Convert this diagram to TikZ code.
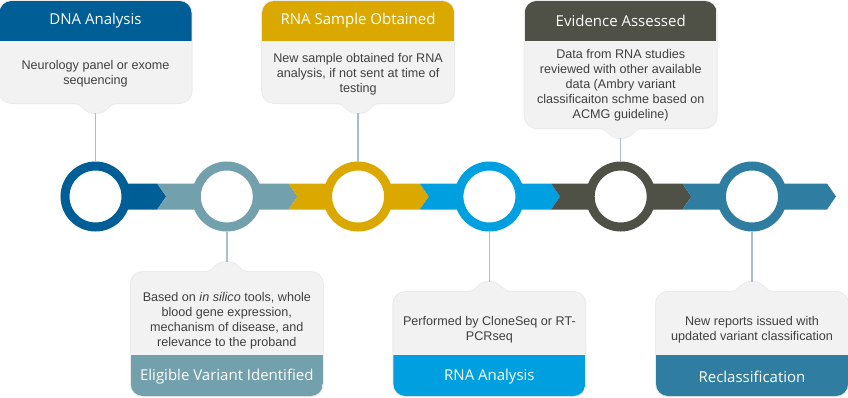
\documentclass[tikz,border=0pt]{standalone}
\usepackage{fontspec}
\setmainfont{Liberation Sans}
\newfontfamily\headfamily{Open Sans}
\definecolor{dnablue}{HTML}{005E97}
\definecolor{varteal}{HTML}{72A0AC}
\definecolor{rnagold}{HTML}{DBA800}
\definecolor{rnablue}{HTML}{00A0E0}
\definecolor{evgrey}{HTML}{4F5046}
\definecolor{reclblue}{HTML}{2F7EA1}
\definecolor{cardbg}{HTML}{F2F2F2}
\definecolor{bodytext}{HTML}{404040}
\definecolor{linkcol}{HTML}{A9BFCE}

% card pieces: centre x, edge y (the tab points at the band)
\newcommand{\topbox}[2]{({#1-96},1) rectangle ({#1+96},#2)}
\newcommand{\toptab}[2]{({#1-22},{#2-4}) -- ({#1-22},#2) .. controls ({#1-11},#2) and ({#1-13},{#2+10}) .. (#1,{#2+10}) .. controls ({#1+13},{#2+10}) and ({#1+11},#2) .. ({#1+22},#2) -- ({#1+22},{#2-4}) -- cycle}
\newcommand{\botbox}[2]{({#1-96},#2) rectangle ({#1+96},396)}
\newcommand{\bottab}[2]{({#1-22},{#2+4}) -- ({#1-22},#2) .. controls ({#1-11},#2) and ({#1-13},{#2-10}) .. (#1,{#2-10}) .. controls ({#1+13},{#2-10}) and ({#1+11},#2) .. ({#1+22},#2) -- ({#1+22},{#2+4}) -- cycle}

\begin{document}
\begin{tikzpicture}[x=1pt, y=-1pt,
    ring/.style={circle, draw=#1, line width=9pt, fill=white, minimum size=61pt, inner sep=0pt},
    cardshade/.style={draw=black!8, line width=2pt},
    cardfill/.style={fill=cardbg},
    round/.style={rounded corners=12pt},
    title/.style={font=\headfamily\fontsize{15}{18}\selectfont, text=white},
    note/.style={font=\fontsize{12.6}{15}\selectfont, text=bodytext, align=center},
    link/.style={draw=linkcol, line width=1.5pt}
]
\useasboundingbox (0,0) rectangle (848,397);

% cards above the band
\foreach \cx/\cy/\col in {95.5/103/dnablue, 358.1/103/rnagold, 620.7/128/evgrey}{
  \draw[cardshade, round] \topbox{\cx}{\cy};
  \draw[cardshade] \toptab{\cx}{\cy};
  \fill[cardfill, round] \topbox{\cx}{\cy};
  \fill[cardfill] \toptab{\cx}{\cy};
  \begin{scope}
    \clip[round] \topbox{\cx}{\cy};
    \fill[\col] ({\cx-96},0) rectangle ({\cx+96},41);
  \end{scope}
}

% cards below the band
\foreach \cx/\cy/\col in {226.8/272/varteal, 489.4/292/rnablue, 752/292/reclblue}{
  \draw[cardshade, round] \botbox{\cx}{\cy};
  \draw[cardshade] \bottab{\cx}{\cy};
  \fill[cardfill, round] \botbox{\cx}{\cy};
  \fill[cardfill] \bottab{\cx}{\cy};
  \begin{scope}
    \clip[round] \botbox{\cx}{\cy};
    \fill[\col] ({\cx-96},355) rectangle ({\cx+96},397);
  \end{scope}
}

% chevron band
\foreach \l/\r/\col in {95.5/157.2/dnablue, 157.2/288.5/varteal, 288.5/419.8/rnagold,
                        419.8/551.1/rnablue, 551.1/682.4/evgrey, 682.4/827/reclblue}{
  \fill[\col] (\l,183.5) -- (\r,183.5) -- ({\r+9},196.5) -- (\r,209.5)
              -- (\l,209.5) -- ({\l+9},196.5) -- cycle;
}

% stage rings
\foreach \x/\col/\n in {95.5/dnablue/dna, 226.8/varteal/var, 358.1/rnagold/rnas,
                        489.4/rnablue/rnaa, 620.7/evgrey/evid, 752/reclblue/recl}{
  \node[ring=\col] (\n) at (\x,196.5) {};
}

% titles
\node[title] (dnahead) at (95.5,21) {DNA Analysis};
\node[title] (rnashead) at (358.1,21) {RNA Sample Obtained};
\node[title] (evidhead) at (620.7,21) {Evidence Assessed};
\node[title] (varhead) at (226.8,377) {Eligible Variant Identified};
\node[title] (rnaahead) at (489.4,377) {RNA Analysis};
\node[title] (reclhead) at (752,377) {Reclassification};

% card texts
\node[note] (dnanote) at (95.5,74) {Neurology panel or exome\\sequencing};
\node[note] (rnasnote) at (358.1,74) {New sample obtained for RNA\\analysis, if not sent at time of\\testing};
\node[note] (evidnote) at (620.7,85) {Data from RNA studies\\reviewed with other available\\data (Ambry variant\\classificaiton schme based on\\ACMG guideline)};
\node[note] (varnote) at (226.8,321) {Based on \textit{in silico} tools, whole\\blood gene expression,\\mechanism of disease, and\\relevance to the proband};
\node[note] (rnaanote) at (489.4,330) {Performed by CloneSeq or RT-\\PCRseq};
\node[note] (reclnote) at (752,330) {New reports issued with\\updated variant classification};

% links from card tabs to rings
\coordinate (dnatip) at (95.5,113);
\coordinate (rnastip) at (358.1,113);
\coordinate (evidtip) at (620.7,138);
\coordinate (vartip) at (226.8,262);
\coordinate (rnaatip) at (489.4,282);
\coordinate (recltip) at (752,282);
\draw[link] (dnatip) -- (dna);
\draw[link] (rnastip) -- (rnas);
\draw[link] (evidtip) -- (evid);
\draw[link] (var) -- (vartip);
\draw[link] (rnaa) -- (rnaatip);
\draw[link] (recl) -- (recltip);
\end{tikzpicture}
\end{document}
